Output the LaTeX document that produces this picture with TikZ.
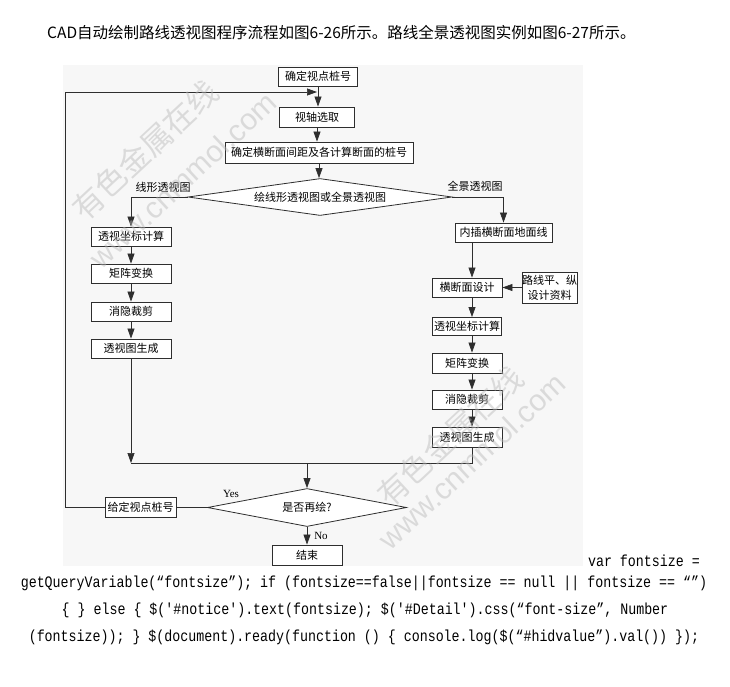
\documentclass[tikz,border=0pt]{standalone}
\usepackage{fontspec}
\usepackage{graphicx}
\setmainfont{Liberation Serif}
\newfontfamily\cjk{Noto Sans CJK SC}
\newfontfamily\codefont{Liberation Mono}
\newfontfamily\wmfont{Liberation Sans}
\usetikzlibrary{arrows.meta, positioning, shapes.geometric}
\definecolor{linegray}{HTML}{2E2E2E}
\definecolor{panel}{HTML}{F7F7F7}
\definecolor{wmgray}{HTML}{B8B8B8}

\begin{document}
\begin{tikzpicture}[x=1pt, y=-1pt, >={Triangle[length=10pt,width=7pt]}]
    \tikzset{
      box/.style={draw=linegray, line width=0.9pt, fill=white, inner sep=0pt,
        minimum height=19pt, font=\cjk\fontsize{11}{15}\selectfont},
      choice/.style={diamond, draw=linegray, line width=0.8pt, fill=white,
        inner sep=0pt, font=\cjk\fontsize{11}{13}\selectfont},
      flow/.style={->, draw=linegray, line width=0.7pt},
      plain/.style={draw=linegray, line width=0.7pt},
      branch/.style={inner sep=0pt, font=\cjk\fontsize{11}{13}\selectfont},
      yesno/.style={inner sep=0pt, font=\fontsize{11}{13}\selectfont},
      code/.style={inner sep=0pt, font=\codefont\fontsize{13.3}{15}\selectfont},
      wmark/.style={inner sep=0pt, text=wmgray, text opacity=0.45}
    }
    \useasboundingbox (0,0) rectangle (730,686);
    \fill[panel] (63,65) rectangle (583,566);

    \node[inner sep=0pt, anchor=west, font=\cjk\fontsize{15.5}{18}\selectfont] (title) at (47,33)
      {CAD自动绘制路线透视图程序流程如图6-26所示。路线全景透视图实例如图6-27所示。};

    \node[box, minimum width=79pt] (start) at (318,76.5) {确定视点桩号};
    \node[box, minimum width=75pt, minimum height=20pt] (axis) at (317,117) {视轴选取};
    \node[box, minimum width=188pt, minimum height=21pt] (spacing) at (319,152.5) {确定横断面间距及各计算断面的桩号};
    \node[choice, shape aspect=7.1, minimum width=264pt, minimum height=37pt] (mode) at (320,197) {绘线形透视图或全景透视图};

    \node[box, minimum width=80pt] (lcoord) at (131,236.5) {透视坐标计算};
    \node[box, minimum width=80pt] (lmatrix) at (131,273.5) {矩阵变换};
    \node[box, minimum width=80pt] (lhide) at (131,311.5) {消隐裁剪};
    \node[box, minimum width=80pt] (lview) at (131,348.5) {透视图生成};

    \node[box, minimum width=97pt] (ground) at (503.5,232.5) {内插横断面地面线};
    \node[box, minimum width=70pt] (rdesign) at (467,287.5) {横断面设计};
    \node[box, minimum width=55pt, minimum height=31pt, align=center] (data) at (549.5,287.5) {路线平、纵\\设计资料};
    \node[box, minimum width=69pt, minimum height=18pt] (rcoord) at (467,326.5) {透视坐标计算};
    \node[box, minimum width=70pt, minimum height=20pt] (rmatrix) at (467,363) {矩阵变换};
    \node[box, minimum width=70pt] (rhide) at (467,399.5) {消隐裁剪};
    \node[box, minimum width=70pt, minimum height=20pt] (rview) at (467,437) {透视图生成};

    \coordinate (merge) at (307,463);
    \coordinate (loop) at (65,92);
    \node[choice, shape aspect=5.2, minimum width=199pt, minimum height=38pt] (again) at (307,507.5) {是否再绘?};
    \node[box, minimum width=71pt, minimum height=20pt] (reset) at (140.5,507.5) {给定视点桩号};
    \node[box, minimum width=70pt, minimum height=20pt] (stop) at (307,555) {结束};

    \draw[flow] (start.south) -- (start.south |- axis.north);
    \draw[flow] (axis.south) -- (axis.south |- spacing.north);
    \draw[flow] (spacing.south) -- (spacing.south |- mode.north);
    \draw[flow] (mode.west) -| (lcoord.north);
    \draw[flow] (mode.east) -| (ground.north);
    \draw[flow] (lcoord) -- (lmatrix);
    \draw[flow] (lmatrix) -- (lhide);
    \draw[flow] (lhide) -- (lview);
    \draw[flow] (lview) -- (lview |- merge);
    \draw[flow] ([xshift=-31.5pt]ground.south) -- ([xshift=5pt]rdesign.north);
    \draw[flow] (data) -- (rdesign);
    \draw[flow] ([xshift=5pt]rdesign.south) -- ([xshift=5pt]rcoord.north);
    \draw[flow] ([xshift=5pt]rcoord.south) -- ([xshift=5pt]rmatrix.north);
    \draw[flow] ([xshift=5pt]rmatrix.south) -- ([xshift=5pt]rhide.north);
    \draw[flow] ([xshift=5pt]rhide.south) -- ([xshift=5pt]rview.north);
    \draw[plain] ([xshift=5pt]rview.south) |- (lview |- merge);
    \draw[flow] (merge) -- (again.north);
    \draw[plain] (again.west) -- (reset.east);
    \draw[flow] (reset.west) -| (loop) -- (loop -| axis.north);
    \draw[flow] (again.south) -- (stop.north);

    \node[branch] (linear) at (163,187) {线形透视图};
    \node[branch] (panorama) at (475,186) {全景透视图};
    \node[yesno] (yes) at (231,494) {Yes};
    \node[yesno] (no) at (321,536) {No};

    \node[code, anchor=east] (code1) at (700,561) {\scalebox{1}[1.2]{var fontsize =}};
    \node[code] (code2) at (364,583) {\scalebox{1}[1.2]{getQueryVariable(“fontsize”); if (fontsize==false||fontsize == null || fontsize == “”)}};
    \node[code] (code3) at (365,610) {\scalebox{1}[1.2]{\{ \} else \{ \$('\#notice').text(fontsize); \$('\#Detail').css(“font-size”, Number}};
    \node[code] (code4) at (364,637) {\scalebox{1}[1.2]{(fontsize)); \} \$(document).ready(function () \{ console.log(\$(“\#hidvalue”).val()) \});}};

    \node[wmark, rotate=43, font=\cjk\fontsize{31}{31}\selectfont] (wmcn1) at (145,150) {有色金属在线};
    \node[wmark, rotate=43, font=\wmfont\fontsize{30}{30}\selectfont] (wmurl1) at (183,180) {www.cnmmol.com};
    \node[wmark, rotate=43, font=\cjk\fontsize{31}{31}\selectfont] (wmcn2) at (450,436) {有色金属在线};
    \node[wmark, rotate=43, font=\wmfont\fontsize{30}{30}\selectfont] (wmurl2) at (472,461) {www.cnmmol.com};
  \end{tikzpicture}
\end{document}
